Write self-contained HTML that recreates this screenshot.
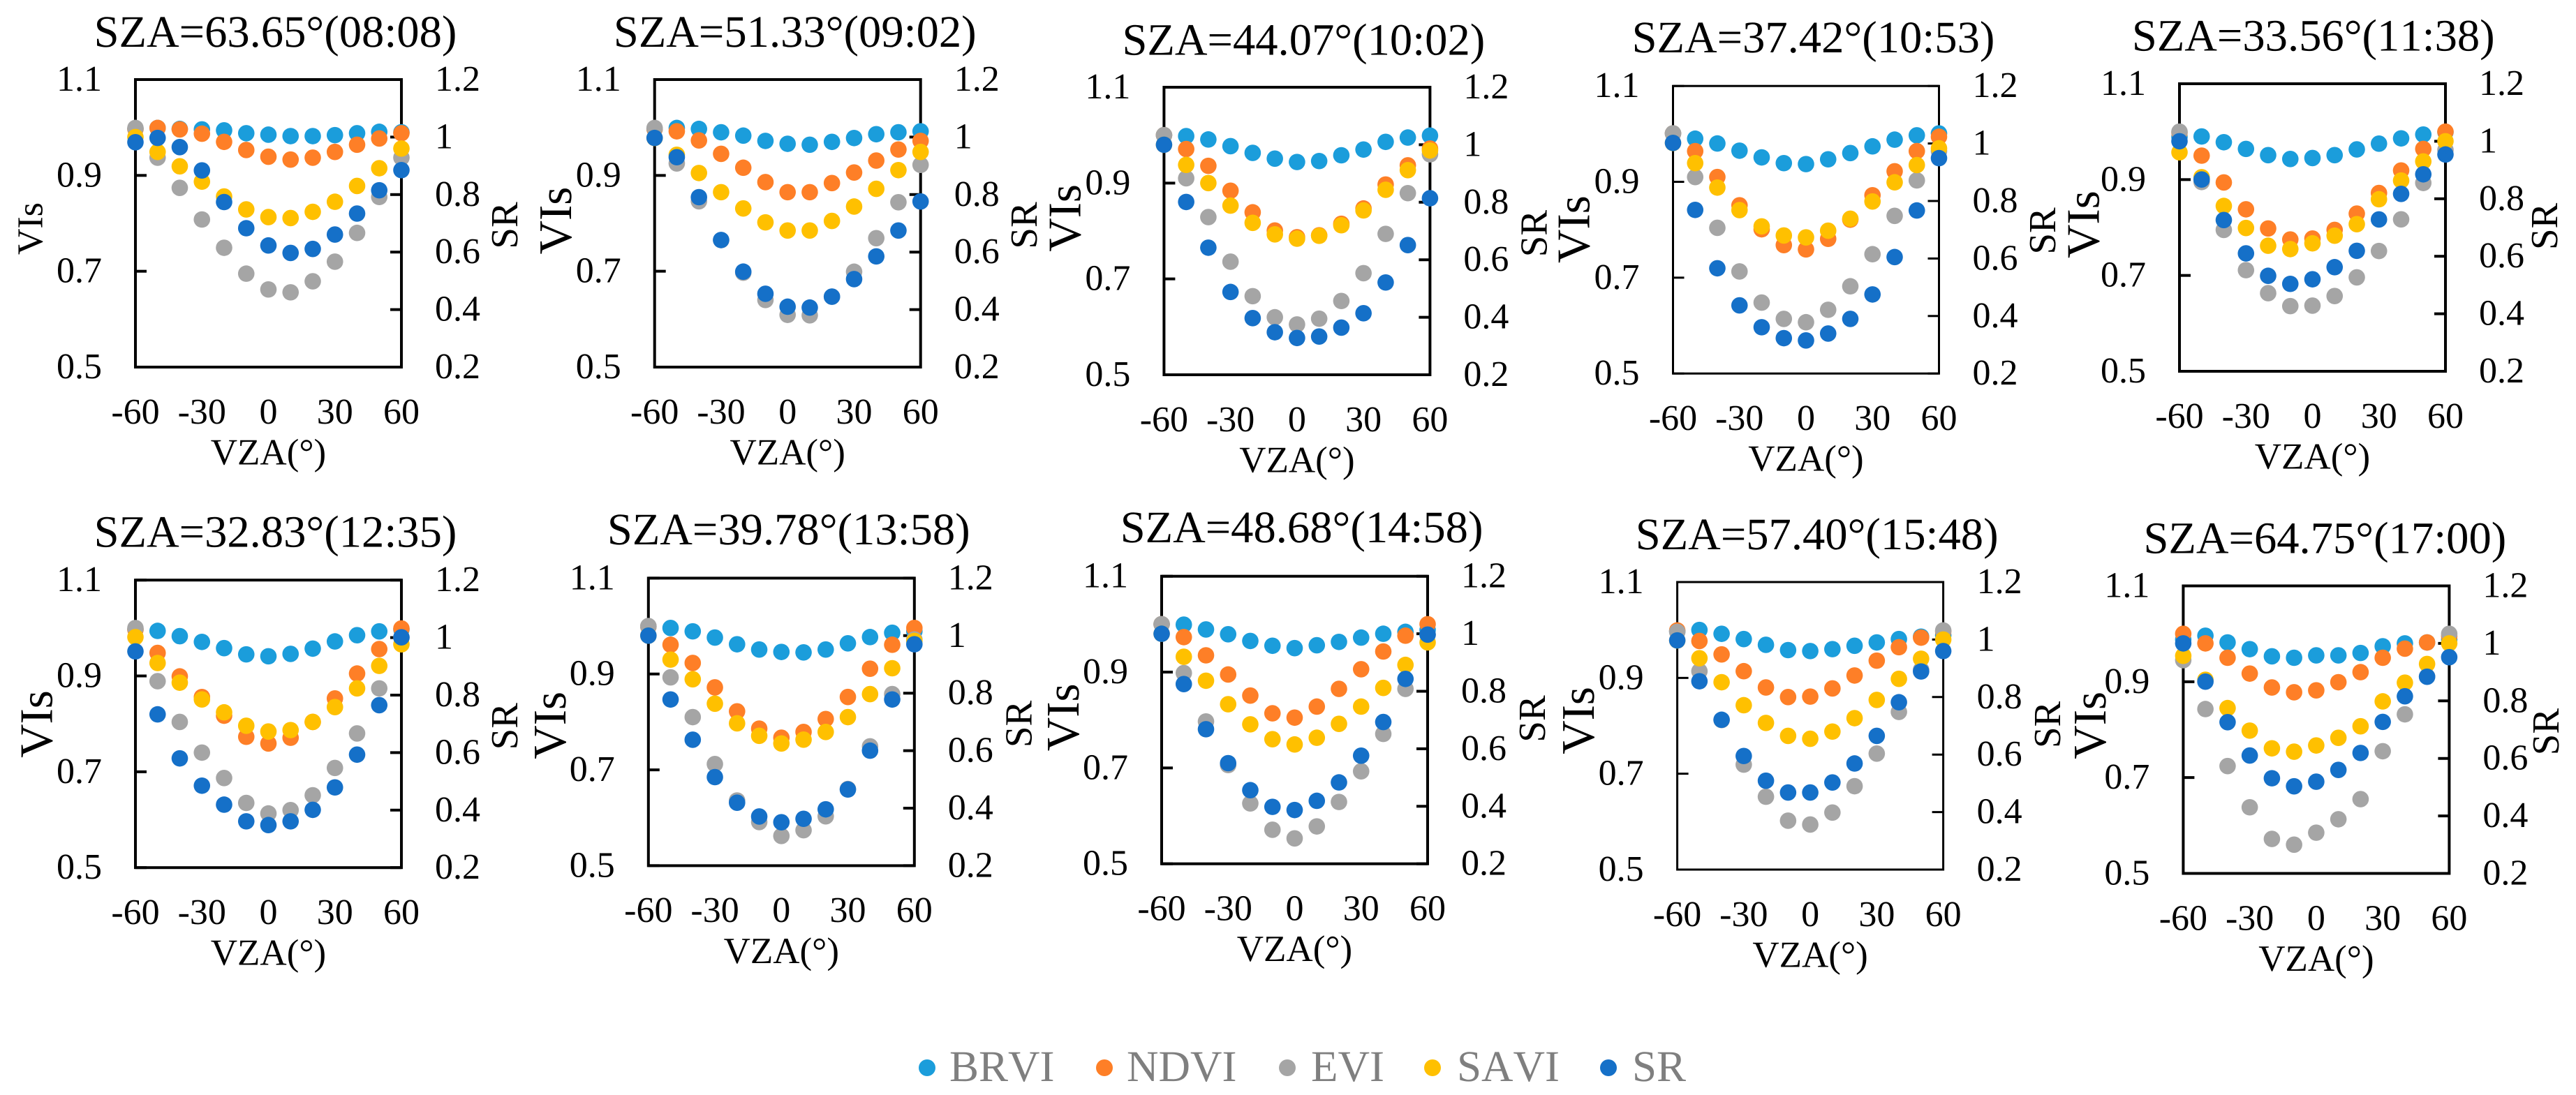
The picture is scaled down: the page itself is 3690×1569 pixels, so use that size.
<!DOCTYPE html>
<html lang="en">
<head>
<meta charset="utf-8">
<title>VIs and SR versus VZA for ten solar zenith angles</title>
<style>
html,body{margin:0;padding:0;background:#fff;}
#chart{display:block;width:3690px;height:1569px;background:#fff;}
text{font-family:"Liberation Serif","Times New Roman",serif;fill:#000;font-kerning:none;text-rendering:geometricPrecision;}
.legend-text{fill:#7f7f7f;font-size:63px;}
</style>
</head>
<body>
<svg id="chart" xmlns="http://www.w3.org/2000/svg" width="3690" height="1569" viewBox="0 0 3690 1569">
  <rect x="0" y="0" width="3690" height="1569" fill="#ffffff"/>
  <g id="panels"></g>
  <g>
    <g>
      <circle cx="1328" cy="1530" r="12" fill="#1b9ddb"/>
      <text class="legend-text" x="1360" y="1549">BRVI</text>
    </g>
    <g>
      <circle cx="1582" cy="1530" r="12" fill="#fe7f27"/>
      <text class="legend-text" x="1614" y="1549">NDVI</text>
    </g>
    <g>
      <circle cx="1844" cy="1530" r="12" fill="#a5a5a5"/>
      <text class="legend-text" x="1878" y="1549">EVI</text>
    </g>
    <g>
      <circle cx="2052" cy="1530" r="12" fill="#ffc000"/>
      <text class="legend-text" x="2087" y="1549">SAVI</text>
    </g>
    <g>
      <circle cx="2304" cy="1530" r="12" fill="#1570c8"/>
      <text class="legend-text" x="2338" y="1549">SR</text>
    </g>
  </g>
</svg>
<script>
// ---- chart data (one row per panel, one value per VZA category) ----
const panelTitles = ["SZA=63.65°(08:08)","SZA=51.33°(09:02)","SZA=44.07°(10:02)","SZA=37.42°(10:53)","SZA=33.56°(11:38)","SZA=32.83°(12:35)","SZA=39.78°(13:58)","SZA=48.68°(14:58)","SZA=57.40°(15:48)","SZA=64.75°(17:00)"];
const vzaCategories = [-60,-50,-40,-30,-20,-10,0,10,20,30,40,50,60];
const xTickLabels = [-60,-30,0,30,60];
const leftTickLabels = ["0.5","0.7","0.9","1.1"];
const rightTickLabels = ["0.2","0.4","0.6","0.8","1","1.2"];

const brviValues = [
[.997,.999,.997,.996,.994,.988,.985,.982,.982,.984,.988,.991,.990],
[.997,.999,.997,.990,.983,.972,.966,.964,.970,.978,.986,.990,.992],
[1.000,.998,.991,.977,.963,.951,.944,.946,.958,.970,.986,.995,.999],
[1.001,.990,.980,.965,.951,.939,.937,.947,.960,.974,.988,.997,1.001],
[.989,.990,.978,.964,.951,.943,.945,.951,.963,.975,.986,.994,.999],
[.997,.994,.983,.971,.958,.945,.941,.946,.957,.972,.985,.993,.997],
[.999,.996,.989,.976,.962,.951,.946,.945,.951,.964,.977,.986,.989],
[1.000,.999,.989,.979,.965,.955,.950,.956,.963,.972,.980,.984,.988],
[.997,1.000,.992,.981,.969,.958,.956,.960,.967,.974,.981,.986,.989],
[.988,.996,.982,.968,.953,.950,.955,.955,.960,.974,.980,.982,.988]
];
const ndviValues = [
[.997,.999,.996,.987,.970,.953,.939,.933,.937,.949,.964,.977,.988],
[.997,.992,.973,.945,.916,.886,.865,.865,.884,.906,.931,.954,.972],
[1.000,.971,.936,.884,.839,.801,.787,.791,.815,.847,.897,.937,.972],
[1.001,.964,.910,.851,.801,.768,.759,.781,.821,.872,.922,.964,.994],
[.998,.950,.894,.838,.798,.775,.777,.795,.829,.872,.919,.964,1.000],
[.997,.948,.899,.856,.817,.773,.759,.771,.804,.853,.905,.956,.999],
[.999,.961,.923,.872,.822,.786,.767,.779,.806,.852,.911,.961,.996],
[1.000,.973,.935,.895,.851,.814,.805,.828,.865,.906,.943,.976,1.000],
[.999,.977,.949,.914,.880,.860,.861,.878,.905,.936,.964,.984,.997],
[1.000,.980,.950,.917,.888,.878,.882,.899,.920,.950,.969,.982,.995]
];
const eviValues = [
[.999,.937,.874,.808,.749,.695,.662,.656,.679,.720,.780,.855,.937],
[.999,.925,.846,.765,.697,.640,.609,.608,.647,.699,.769,.844,.922],
[1.000,.910,.829,.736,.664,.620,.605,.617,.654,.712,.794,.879,.960],
[1.001,.910,.804,.713,.648,.614,.607,.633,.682,.749,.829,.903,.964],
[1.000,.895,.795,.711,.663,.636,.637,.657,.696,.751,.817,.893,.962],
[1.000,.889,.804,.740,.687,.635,.613,.620,.651,.708,.780,.874,.980],
[1.000,.893,.810,.712,.636,.591,.562,.574,.603,.660,.749,.858,.972],
[1.000,.898,.797,.706,.626,.571,.553,.578,.629,.693,.771,.865,.978],
[.996,.914,.812,.719,.652,.602,.594,.619,.674,.742,.829,.917,.999],
[.945,.843,.724,.638,.572,.560,.585,.613,.655,.755,.832,.911,1.000]
];
const saviValues = [
[.980,.949,.919,.887,.856,.829,.813,.811,.824,.845,.878,.915,.956],
[.978,.943,.905,.865,.831,.802,.785,.785,.805,.835,.872,.911,.949],
[.980,.938,.900,.853,.817,.793,.784,.790,.812,.843,.886,.927,.968],
[.981,.939,.888,.841,.807,.788,.784,.798,.823,.859,.899,.935,.970],
[.957,.905,.845,.799,.762,.755,.767,.783,.807,.859,.898,.938,.980],
[.981,.927,.886,.851,.824,.796,.784,.787,.804,.835,.874,.921,.966],
[.980,.930,.889,.838,.797,.771,.755,.763,.779,.810,.858,.912,.969],
[.980,.932,.882,.833,.791,.760,.749,.763,.792,.828,.867,.915,.962],
[.978,.941,.891,.843,.806,.779,.773,.788,.816,.854,.898,.940,.980],
[.954,.904,.845,.798,.761,.754,.767,.783,.807,.859,.898,.937,.980]
];
const srValues = [
[.982,.997,.965,.884,.774,.683,.623,.597,.611,.661,.734,.815,.885],
[.997,.930,.791,.642,.532,.455,.410,.407,.445,.506,.585,.675,.776],
[1.000,.801,.642,.488,.397,.348,.328,.333,.364,.414,.521,.651,.814],
[1.002,.769,.566,.437,.361,.323,.315,.339,.390,.475,.605,.767,.949],
[1.000,.867,.726,.610,.532,.504,.520,.562,.619,.728,.817,.885,.954],
[.952,.733,.580,.485,.419,.361,.348,.361,.401,.479,.593,.765,1.001],
[1.000,.778,.638,.508,.419,.371,.351,.363,.396,.465,.600,.778,.970],
[1.000,.825,.668,.550,.456,.398,.387,.419,.483,.576,.693,.843,.997],
[.997,.855,.721,.595,.509,.468,.468,.503,.569,.665,.782,.889,.960],
[1.000,.867,.726,.610,.531,.503,.519,.560,.619,.727,.816,.884,.952]
];

// ---- layout (pixels, not data) ----
const PLOT_W = 381, PLOT_H = 412, DOT_R = 11.8;
const frames = [
 {l:194,t:114,title:[394.5,66.9],vi:[60.4,327.6,52],sr:[741,323]},
 {l:937.7,t:114,title:[1138.8,66.9],vi:[817.9,316,67],sr:[1485,323]},
 {l:1667.4,t:125,title:[1867.4,78.4],vi:[1547.5,312.4,67],sr:[2215.6,334.6]},
 {l:2396.5,t:123.2,title:[2597.5,75.2],vi:[2276.6,328.6,67],sr:[2944,330.9],thin:true},
 {l:3122,t:120,title:[3313.8,72.5],vi:[3006.6,321.6,67],sr:[3663,324.4]},
 {l:194,t:831.2,title:[394.5,783.7],vi:[74.6,1037.5,67],sr:[741,1040.7]},
 {l:928.8,t:828.4,title:[1129.8,780],vi:[809.8,1039.3,67],sr:[1477.5,1037.5]},
 {l:1664,t:825.7,title:[1864.6,777.2],vi:[1545,1027.8,67],sr:[2213,1030]},
 {l:2402.6,t:834,title:[2602.7,786.9],vi:[2282.8,1032.4,67],sr:[2951,1038.4],thin:true},
 {l:3127.4,t:839.5,title:[3330.4,792.5],vi:[3016,1039.3,67],sr:[3665,1048.6]}
];
const seriesDefs = [
 {key:'brvi',color:'#1b9ddb',values:brviValues,axis:'left'},
 {key:'ndvi',color:'#fe7f27',values:ndviValues,axis:'left'},
 {key:'evi',color:'#a5a5a5',values:eviValues,axis:'left'},
 {key:'savi',color:'#ffc000',values:saviValues,axis:'left'},
 {key:'sr',color:'#1570c8',values:srValues,axis:'right'}
];

// ---- axis functions ----
function xScale(f, vza){ return f.l + (vza + 60) / 120 * PLOT_W; }
function yLeft(f, v){ return f.t + PLOT_H - (v - 0.5) / 0.6 * PLOT_H; }
function yRight(f, v){ return f.t + PLOT_H - (v - 0.2) / 1.0 * PLOT_H; }

const NS = 'http://www.w3.org/2000/svg';
function make(tag, attrs, parent, content){
  const node = document.createElementNS(NS, tag);
  for (const k in attrs) node.setAttribute(k, attrs[k]);
  if (content !== undefined) node.textContent = content;
  parent.appendChild(node);
  return node;
}

const root = document.getElementById('panels');
frames.forEach(function(f, p){
  const panelNo = p + 1;
  const sw = f.thin ? 3 : 4;
  const bottom = f.t + PLOT_H, right = f.l + PLOT_W;
  const g = make('g', {}, root);
  
  

  let el = make('text', {x:f.title[0], y:f.title[1], 'text-anchor':'middle', 'font-size':64.6}, g, panelTitles[p]);
  
  

  el = make('rect', {x:f.l, y:f.t, width:PLOT_W, height:PLOT_H, fill:'none', stroke:'#000', 'stroke-width':sw}, g);
  
  

  leftTickLabels.forEach(function(lab){
    const y = yLeft(f, parseFloat(lab));
    const mark = make('line', {x1:f.l, x2:f.l + 16, y1:y, y2:y, stroke:'#000', 'stroke-width':sw}, g);
    
    
    const t = make('text', {x:f.l - 48, y:y + 16, 'text-anchor':'end', 'font-size':52}, g, lab);
    
    
  });
  rightTickLabels.forEach(function(lab){
    const y = yRight(f, parseFloat(lab));
    const mark = make('line', {x1:right - 16, x2:right, y1:y, y2:y, stroke:'#000', 'stroke-width':sw}, g);
    
    
    const t = make('text', {x:right + 48, y:y + 16, 'text-anchor':'start', 'font-size':52}, g, lab);
    
    
  });
  xTickLabels.forEach(function(lab){
    const t = make('text', {x:xScale(f, lab), y:bottom + 80.8, 'text-anchor':'middle', 'font-size':52}, g, String(lab));
    
    
  });

  el = make('text', {x:f.l + PLOT_W / 2, y:bottom + 139.5, 'text-anchor':'middle', 'font-size':53}, g, 'VZA(°)');
  
  

  el = make('text', {x:0, y:0, 'text-anchor':'middle', 'font-size':f.vi[2], transform:'translate(' + f.vi[0] + ' ' + f.vi[1] + ') rotate(-90)'}, g, 'VIs');
  
  

  el = make('text', {x:0, y:0, 'text-anchor':'middle', 'font-size':55, transform:'translate(' + f.sr[0] + ' ' + f.sr[1] + ') rotate(-90)'}, g, 'SR');
  
  

  seriesDefs.forEach(function(s){
    const sg = make('g', {fill:s.color}, g);
    
    
    s.values[p].forEach(function(v, i){
      const cy = s.axis === 'left' ? yLeft(f, v) : yRight(f, v);
      const dot = make('circle', {cx:xScale(f, vzaCategories[i]), cy:cy, r:DOT_R}, sg);
      
      
    });
  });
});
</script>
</body>
</html>
